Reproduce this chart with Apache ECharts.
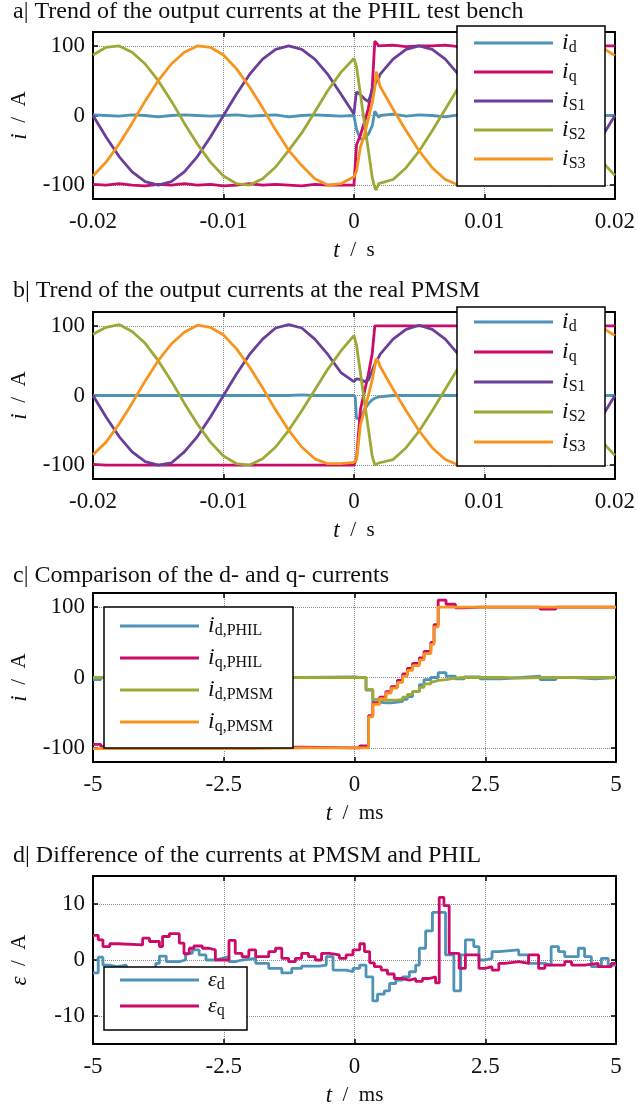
<!DOCTYPE html>
<html>
<head>
<meta charset="utf-8">
<title>PHIL currents</title>
<script src="https://cdn.jsdelivr.net/npm/echarts@6/dist/echarts.min.js"></script>
<style>
  html, body { margin: 0; padding: 0; background: #fff; }
  #chart { width: 638px; height: 1113px; }
</style>
</head>
<body>
<div id="chart"></div>
<script>
// time base of panels a and b (s)
const tAB = [-0.020, -0.019, -0.018, -0.017, -0.016, -0.015, -0.014, -0.013, -0.012, -0.011,
  -0.010, -0.009, -0.008, -0.007, -0.006, -0.005, -0.004, -0.003, -0.002, -0.001, 0,
  0.0001, 0.0002, 0.0005, 0.0008, 0.0011, 0.0014, 0.0016, 0.0017, 0.0019,
  0.002, 0.003, 0.004, 0.005, 0.006, 0.007, 0.008, 0.009, 0.010, 0.011, 0.012,
  0.013, 0.014, 0.015, 0.016, 0.017, 0.018, 0.019, 0.020]

// a| PHIL test bench
const idA = [1, 0, -1, 1, 0, -2, 0, 1, 0, -1, 0, 1, -1, 0, 1, -2, 0, 1, 0, -1, 0,
  -2, -20, -34, -33, -27, -15, 6, 4, -3,
  0, 2, -1, 1, 0, -2, 1, 0, -1, 1, 0, -2, 0, 1, -1, 0, 1, 0, 0]
const iqA = [-99, -100, -98, -100, -101, -99, -100, -98, -100, -99, -101, -100, -98, -100, -99, -100, -101, -99, -100, -100, -100,
  -100, -42, -28, -10, 10, 40, 107, 106, 100,
  100, 101, 99, 100, 100, 101, 99, 100, 100, 101, 100, 99, 100, 100, 101, 100, 99, 100, 100]
const iS1A = [0, -31, -59, -81, -95, -100, -95, -81, -59, -31, 0, 31, 59, 81, 95, 100, 95, 81, 59, 31, 2,
  20, 34, 30, 24, 20, 35, 44, 48, 54,
  59, 81, 95, 100, 95, 81, 59, 31, 0, -31, -59, -81, -95, -100, -95, -81, -59, -31, 0]
const iS2A = [87, 98, 100, 91, 74, 50, 21, -11, -41, -67, -87, -98, -100, -91, -74, -50, -25, 5, 36, 62, 82,
  83, 70, 30, -10, -49, -89, -104, -107, -98,
  -99, -92, -75, -51, -22, 9, 40, 66, 86, 98, 100, 92, 75, 51, 22, -9, -40, -66, -86]
const iS3A = [-87, -67, -41, -11, 21, 50, 74, 91, 100, 98, 87, 67, 41, 11, -21, -50, -72, -91, -100, -98, -88,
  -86, -80, -45, -28, -5, 18, 40, 63, 50,
  42, 9, -22, -51, -75, -92, -100, -98, -86, -66, -40, -9, 22, 51, 75, 92, 100, 98, 86]

// b| real PMSM
const idB = [0, 0, 0, 0, 0, 0, 0, 0, 0, 0, 0, 0, 0, 0, 0, 0, 1, 0, 0, 0, 0,
  -3, -33, -33, -20, -12, -6, -4, -3, -2,
  -1, 0, 0, 0, 0, 0, 0, 0, 0, 0, 0, 0, 0, 0, 0, 0, 0, 0, 0]
const iqB = [-99, -100, -100, -100, -100, -100, -100, -100, -100, -100, -100, -100, -100, -100, -100, -100, -100, -100, -100, -100, -100,
  -100, -90, -20, 5, 30, 60, 100, 100, 100,
  100, 100, 100, 100, 100, 100, 100, 100, 100, 100, 100, 100, 100, 100, 100, 100, 100, 100, 100]
const iS1B = [0, -31, -59, -81, -95, -100, -97, -81, -59, -31, 0, 31, 59, 81, 97, 102, 97, 81, 59, 33, 20,
  22, 24, 23, 20, 22, 36, 45, 50, 55,
  59, 81, 95, 101, 95, 81, 59, 31, 0, -31, -59, -81, -95, -100, -95, -81, -59, -31, 0]
const iS2B = [88, 98, 102, 92, 75, 50, 21, -11, -41, -67, -87, -98, -100, -91, -74, -50, -22, 8, 38, 64, 86,
  86, 72, 32, -8, -47, -87, -100, -98, -97,
  -98, -92, -75, -51, -22, 9, 40, 66, 86, 98, 101, 92, 75, 51, 22, -9, -40, -66, -86]
const iS3B = [-85, -67, -41, -11, 21, 50, 74, 91, 101, 98, 87, 67, 41, 11, -21, -50, -74, -91, -98, -98, -96,
  -96, -92, -42, -22, 0, 22, 42, 53, 48,
  42, 9, -22, -51, -75, -92, -100, -98, -86, -66, -40, -9, 22, 51, 75, 92, 100, 98, 86]

// c| d- and q- currents (ms), sample-and-hold
const tC = [-5, -4.85, -4, -3, -2, -1, 0, 0.1, 0.22, 0.27, 0.35, 0.48, 0.6, 0.7, 0.82, 0.92, 1.01, 1.11,
  1.24, 1.33, 1.46, 1.52, 1.6, 1.75, 1.93, 2.1, 2.4, 2.8, 3.2, 3.55, 3.85, 4.2, 4.6, 5]
const idPhil = [-3, 0, 1, -1, 0, 1, 0, 0, -18, -18, -35, -36, -36, -35, -34, -31, -27, -20,
  -10, -3, 0, 0, 7, 2, -2, 1, -2, 0, 2, -3, 0, -2, 0, -1]
const iqPhil = [-95, -98, -99, -100, -99, -100, -100, -97, -97, -54, -36, -28, -20, -13, -4, 5, 13, 20,
  28, 37, 50, 75, 110, 104, 99, 100, 100, 100, 100, 97, 100, 100, 100, 100]
const idPmsm = [0, 0, 0, 0, 0, 0, 0, 0, -17, -17, -31, -32, -32, -32, -31, -28, -24, -20,
  -14, -9, -6, -4, -3, -1, 0, 0, 0, -1, 0, 0, 0, 0, 0, 0]
const iqPmsm = [-101, -101, -101, -101, -100, -100, -100, -100, -100, -56, -38, -30, -22, -15, -7, 2, 10, 17,
  25, 34, 47, 72, 100, 100, 100, 100, 100, 100, 100, 100, 100, 100, 100, 100]

// d| differences (ms)
const tEd = [-5, -4.9, -4.81, -4.68, -4.55, -4.36, -4.0, -3.8, -3.73, -3.6, -3.35, -3.23, -3.1, -2.97, -2.84,
  -2.66, -2.53, -2.4, -2.28, -2.15, -1.89, -1.64, -1.39, -1.2, -1.01, -0.67, -0.54, -0.41, -0.16, -0.03,
  0.1, 0.22, 0.35, 0.44, 0.57, 0.67, 0.79, 0.92, 1.05, 1.17, 1.24, 1.36, 1.49, 1.74, 1.9,
  2.03, 2.12, 2.28, 2.38, 2.5, 2.63, 2.76, 3.14, 3.33, 3.64, 3.76, 3.9, 4.02, 4.28, 4.4, 4.53, 4.72, 4.85, 5]
const ed = [-2.3, 0.5, -0.9, -1.2, -0.9, -1.6, -1.8, -0.6, 0.7, -0.3, 0, 1.2, 1.8, 0.9, 0,
  0.3, 0.6, -0.3, 0, 0.3, -0.6, -1.5, -2.3, -1.5, -1.1, -0.9, 0.6, -1.8, -2.1, -1.5,
  -0.9, -3.0, -7.3, -6.1, -5.5, -4.2, -3.6, -3.0, -2.1, -0.9, 2.1, 5.2, 8.5, 0.9, -5.5,
  0.9, 3.6, 2.4, 0, 0.3, 1.5, 1.8, 0.9, -0.6, -0.9, 2.4, 1.5, 0.6, 2.1, 0.6, -1.2, 0.3, -0.9, -0.9]
const tEq = [-5, -4.9, -4.81, -4.68, -4.52, -4.05, -3.92, -3.73, -3.67, -3.54, -3.35, -3.26, -3.16, -3.07, -2.91,
  -2.78, -2.66, -2.4, -2.28, -2.15, -2.02, -1.89, -1.64, -1.51, -1.39, -1.26, -1.13, -1.01, -0.88, -0.75,
  -0.63, -0.48, -0.29, -0.16, -0.03, 0.1, 0.19, 0.29, 0.38, 0.51, 0.63, 0.76, 0.89, 1.05, 1.17,
  1.3, 1.43, 1.55, 1.62, 1.71, 1.81, 2.0, 2.12, 2.38, 2.5, 2.63, 2.76, 2.88, 3.14, 3.33,
  3.52, 3.64, 4.02, 4.15, 4.4, 4.66, 4.91, 5]
const eq = [4.4, 3.6, 2.4, 2.9, 2.7, 3.9, 3.3, 2.4, 4.2, 4.7, 3.0, 1.1, 2.1, 2.5, 2.1,
  1.8, 0, 3.5, 1.2, 0.6, 1.8, 0.6, 1.5, 2.1, 0.3, -0.3, 0.3, 1.2, 0.6, 0,
  1.2, 0.9, 0.3, 0.9, 1.8, 2.9, 1.5, -0.5, -1.2, -1.8, -2.5, -3.3, -3.6, -3.3, -3.8,
  -3.3, -3.0, -4.1, 11.2, 9.7, 1.2, -1.5, 0.9, -1.5, -1.2, -1.8, -0.6, -0.3, -0.6, 0.9,
  -1.5, -0.9, -0.3, -0.9, -0.6, -1.2, -0.6, -0.6]

// tick labels
const xTicksAB = [-0.02, -0.01, 0, 0.01, 0.02]
const xTicksCD = [-5, -2.5, 0, 2.5, 5]
const yTicksABC = [-100, 0, 100]
const yTicksD = [-10, 0, 10]

const titles = [
  'a| Trend of the output currents at the PHIL test bench',
  'b| Trend of the output currents at the real PMSM',
  'c| Comparison of the d- and q- currents',
  'd| Difference of the currents at PMSM and PHIL'
]

const colors = {
  blue: '#4e93b5',
  red: '#cc0a6a',
  purple: '#6b3f99',
  olive: '#9ea835',
  orange: '#f7941d'
}

const font = 'Liberation Serif'
const ink = '#111'

// legend labels (rich text)
const legendText = {
  id: '{i|i}{s|d}',
  iq: '{i|i}{s|q}',
  iS1: '{i|i}{s|S1}',
  iS2: '{i|i}{s|S2}',
  iS3: '{i|i}{s|S3}',
  idPHIL: '{i|i}{s|d,PHIL}',
  iqPHIL: '{i|i}{s|q,PHIL}',
  idPMSM: '{i|i}{s|d,PMSM}',
  iqPMSM: '{i|i}{s|q,PMSM}',
  ed: '{g|ε}{s|d}',
  eq: '{g|ε}{s|q}'
}

const zip = (t, v) => t.map((x, i) => [x, v[i]])

const chart = echarts.init(document.getElementById('chart'), null, { renderer: 'canvas' })

// grid positions (px)
const grids = [
  { left: 90, top: 32, width: 526, height: 167 },
  { left: 90, top: 312, width: 526, height: 167 },
  { left: 90, top: 593, width: 526, height: 169 },
  { left: 90, top: 876, width: 526, height: 168 }
]

const axisLine = { show: true, onZero: false, lineStyle: { color: '#000', width: 2 } }
const tick = { show: true, inside: true, length: 5, lineStyle: { color: '#000', width: 1.5 } }
const labelStyle = { fontFamily: font, fontSize: 23, color: ink }
const nameRich = {
  it: { fontFamily: font, fontStyle: 'italic', fontSize: 23, color: ink },
  n: { fontFamily: font, fontSize: 21, color: ink }
}
const split = { show: true, lineStyle: { type: 'dotted', color: '#8a8a8a', width: 1 } }

const xAxes = []
const yAxes = []
for (let p = 0; p < 4; p++) {
  const ms = p >= 2
  const xt = ms ? xTicksCD : xTicksAB
  const yt = p === 3 ? yTicksD : yTicksABC
  const ylim = p === 3 ? 15 : 120
  xAxes.push({
    gridIndex: p,
    type: 'value',
    min: xt[0],
    max: xt[xt.length - 1],
    axisLine,
    axisTick: { ...tick, customValues: xt },
    axisLabel: { ...labelStyle, margin: 11, customValues: xt, formatter: v => String(v) },
    splitLine: split,
    name: ms ? '{it|t}{n|  /  ms}' : '{it|t}{n|  /  s}',
    nameLocation: 'middle',
    nameGap: 40,
    nameTextStyle: { rich: nameRich }
  })
  xAxes.push({
    gridIndex: p,
    type: 'value',
    position: 'top',
    min: xt[0],
    max: xt[xt.length - 1],
    axisLine,
    axisTick: { ...tick, customValues: xt },
    axisLabel: { show: false },
    splitLine: { show: false }
  })
  yAxes.push({
    gridIndex: p,
    type: 'value',
    min: -ylim,
    max: ylim,
    axisLine,
    axisTick: { ...tick, customValues: yt },
    axisLabel: { ...labelStyle, margin: 8, customValues: yt, formatter: v => String(v) },
    splitLine: split,
    name: p === 3 ? '{it|ε}{n|  /  A}' : '{it|i}{n|  /  A}',
    nameLocation: 'middle',
    nameGap: 62,
    nameTextStyle: { rich: nameRich }
  })
  yAxes.push({
    gridIndex: p,
    type: 'value',
    position: 'right',
    min: -ylim,
    max: ylim,
    axisLine,
    axisTick: { ...tick, customValues: yt },
    axisLabel: { show: false },
    splitLine: { show: false }
  })
}

function line (name, color, p, data, step) {
  return {
    name,
    type: 'line',
    xAxisIndex: 2 * p,
    yAxisIndex: 2 * p,
    data,
    step: step ? 'end' : false,
    showSymbol: false,
    symbol: 'none',
    color,
    lineStyle: { color, width: 2.8 },
    z: 2
  }
}

const series = [
  line('id', colors.blue, 0, zip(tAB, idA)),
  line('iq', colors.red, 0, zip(tAB, iqA)),
  line('iS1', colors.purple, 0, zip(tAB, iS1A)),
  line('iS2', colors.olive, 0, zip(tAB, iS2A)),
  line('iS3', colors.orange, 0, zip(tAB, iS3A)),
  line('id', colors.blue, 1, zip(tAB, idB)),
  line('iq', colors.red, 1, zip(tAB, iqB)),
  line('iS1', colors.purple, 1, zip(tAB, iS1B)),
  line('iS2', colors.olive, 1, zip(tAB, iS2B)),
  line('iS3', colors.orange, 1, zip(tAB, iS3B)),
  line('idPHIL', colors.blue, 2, zip(tC, idPhil), true),
  line('iqPHIL', colors.red, 2, zip(tC, iqPhil), true),
  line('idPMSM', colors.olive, 2, zip(tC, idPmsm), true),
  line('iqPMSM', colors.orange, 2, zip(tC, iqPmsm), true),
  line('ed', colors.blue, 3, zip(tEd, ed), true),
  line('eq', colors.red, 3, zip(tEq, eq), true)
]

const legendRich = {
  i: { fontFamily: font, fontStyle: 'italic', fontSize: 24, lineHeight: 26, color: ink, padding: [0, 0, 0, 4] },
  g: { fontFamily: font, fontStyle: 'italic', fontSize: 22, lineHeight: 26, color: ink, padding: [0, 0, 0, 4] },
  s: { fontFamily: font, fontSize: 16, lineHeight: 15, verticalAlign: 'bottom', color: ink }
}

function legend (names, left, top, gap) {
  return {
    data: names,
    left,
    top,
    orient: 'vertical',
    icon: 'rect',
    itemWidth: 79,
    itemHeight: 3,
    itemGap: gap,
    padding: 0,
    selectedMode: false,
    formatter: n => legendText[n],
    textStyle: { rich: legendRich },
    z: 11
  }
}

// legend frames
const boxes = [
  [457, 26, 148, 160],
  [457, 307, 148, 159],
  [104, 607, 189, 141],
  [104, 967, 143, 63]
]

chart.setOption({
  animation: false,
  backgroundColor: '#fff',
  title: titles.map((text, i) => ({
    text,
    left: 13,
    top: [0, 279, 564, 844][i],
    padding: 0,
    textStyle: { fontFamily: font, fontSize: 24, fontWeight: 'normal', color: ink }
  })),
  grid: grids,
  xAxis: xAxes,
  yAxis: yAxes,
  legend: [
    legend(['id', 'iq', 'iS1', 'iS2', 'iS3'], 474, 31, 4),
    legend(['id', 'iq', 'iS1', 'iS2', 'iS3'], 474, 310, 5),
    legend(['idPHIL', 'iqPHIL', 'idPMSM', 'iqPMSM'], 120, 614, 7),
    legend(['ed', 'eq'], 120, 969, 2)
  ],
  graphic: {
    elements: boxes.map(b => ({
      type: 'rect',
      shape: { x: b[0], y: b[1], width: b[2], height: b[3] },
      style: { fill: '#fff', stroke: '#000', lineWidth: 1.5 },
      z: 10
    }))
  },
  series
})
</script>
</body>
</html>
